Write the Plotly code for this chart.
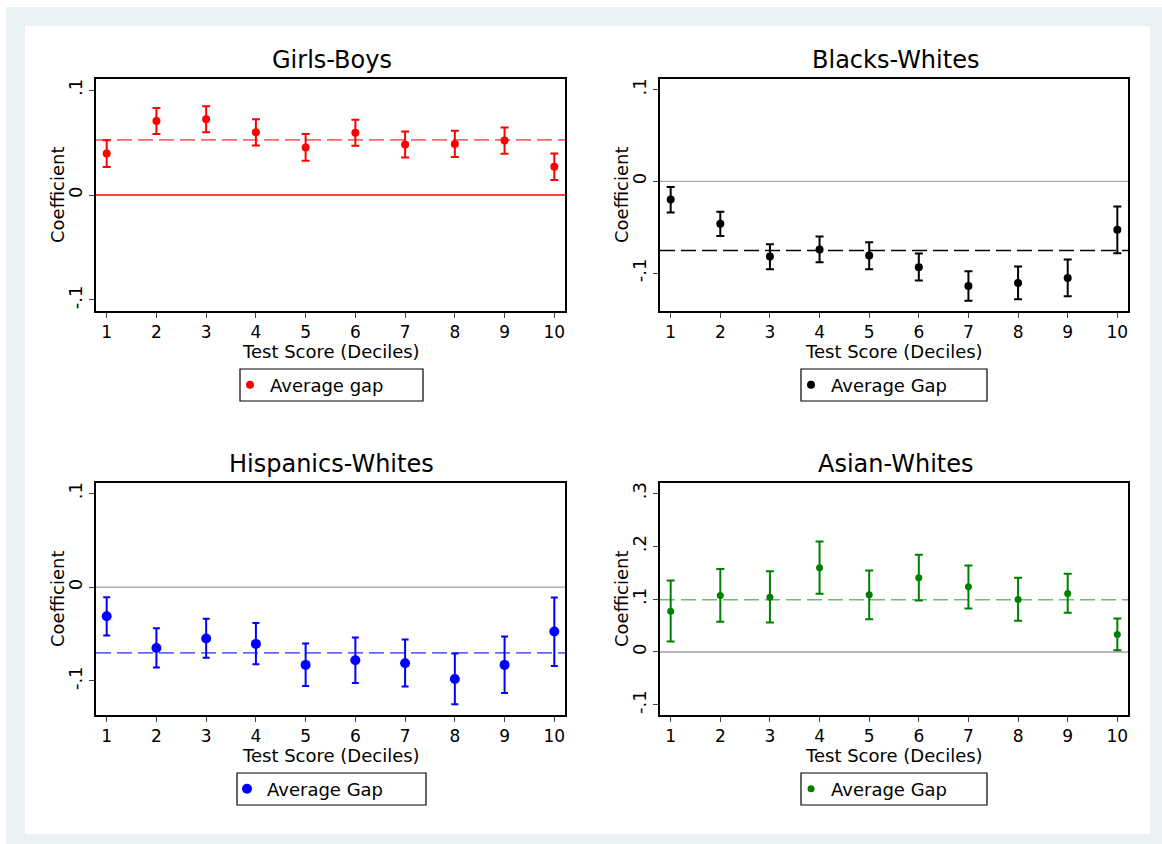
import plotly.graph_objects as go

# ---- data -------------------------------------------------------------
deciles = list(range(1, 11))

girls_boys = [0.0396, 0.0706, 0.0722, 0.0598, 0.0453, 0.0592, 0.0481, 0.0487, 0.0519, 0.0269]
girls_boys_lo = [0.0266, 0.0582, 0.0598, 0.0472, 0.0326, 0.0468, 0.0358, 0.0361, 0.0392, 0.0142]
girls_boys_hi = [0.0522, 0.0829, 0.0845, 0.0722, 0.0582, 0.0718, 0.0604, 0.0611, 0.0642, 0.0396]
girls_boys_avg = 0.0525

blacks_whites = [-0.0197, -0.0463, -0.0820, -0.0743, -0.0809, -0.0936, -0.1140, -0.1107, -0.1053, -0.0528]
blacks_whites_lo = [-0.0339, -0.0597, -0.0958, -0.0882, -0.0958, -0.1082, -0.1301, -0.1286, -0.1253, -0.0783]
blacks_whites_hi = [-0.0062, -0.0332, -0.0685, -0.0601, -0.0663, -0.0787, -0.0980, -0.0929, -0.0852, -0.0273]
blacks_whites_avg = -0.0754

hisp_whites = [-0.0310, -0.0648, -0.0548, -0.0605, -0.0829, -0.0779, -0.0811, -0.0979, -0.0829, -0.0473]
hisp_whites_lo = [-0.0516, -0.0858, -0.0754, -0.0822, -0.1053, -0.1021, -0.1060, -0.1249, -0.1128, -0.0840]
hisp_whites_hi = [-0.0107, -0.0438, -0.0338, -0.0381, -0.0601, -0.0537, -0.0559, -0.0708, -0.0527, -0.0110]
hisp_whites_avg = -0.0701

asian_whites = [0.0771, 0.1068, 0.1036, 0.1592, 0.1081, 0.1403, 0.1232, 0.0992, 0.1106, 0.0329]
asian_whites_lo = [0.0196, 0.0569, 0.0556, 0.1100, 0.0619, 0.0973, 0.0821, 0.0588, 0.0739, 0.0032]
asian_whites_hi = [0.1352, 0.1567, 0.1529, 0.2092, 0.1542, 0.1839, 0.1637, 0.1403, 0.1479, 0.0632]
asian_whites_avg = 0.0986

y_ticks_small = [-0.1, 0, 0.1]
y_ticks_small_text = ["-.1", "0", ".1"]
y_ticks_asian = [-0.1, 0, 0.1, 0.2, 0.3]
y_ticks_asian_text = ["-.1", "0", ".1", ".2", ".3"]

# ---- layout geometry (pixels on a 1162 x 844 canvas) --------------------
W, H = 1162, 844
FONT = "DejaVu Sans"
TXT = 18
TICK_TXT = 17


def px_x(p):
    return p / W


def px_y(p):
    return 1 - p / H


panels = [
    dict(title="Girls-Boys", est=girls_boys, lo=girls_boys_lo, hi=girls_boys_hi,
         avg=girls_boys_avg, color="#FF0000", avg_color="rgba(255,0,0,0.6)",
         zero_color="#FF0000", zero_width=1.3, msize=8, cap=4,
         box=(96, 565, 79, 311), yrange=[-0.1105, 0.1105],
         ticks=(y_ticks_small, y_ticks_small_text), leg_name="Average gap",
         leg_box=(240, 423, 369, 401)),
    dict(title="Blacks-Whites", est=blacks_whites, lo=blacks_whites_lo, hi=blacks_whites_hi,
         avg=blacks_whites_avg, color="#000000", avg_color="#000000",
         zero_color="#A8A8A8", zero_width=1.2, msize=8, cap=4,
         box=(660, 1128, 79, 311), yrange=[-0.1413, 0.1115],
         ticks=(y_ticks_small, y_ticks_small_text), leg_name="Average Gap",
         leg_box=(801, 987, 369, 401)),
    dict(title="Hispanics-Whites", est=hisp_whites, lo=hisp_whites_lo, hi=hisp_whites_hi,
         avg=hisp_whites_avg, color="#0000FF", avg_color="rgba(0,0,255,0.6)",
         zero_color="#888888", zero_width=1, msize=10, cap=3.5,
         box=(96, 565, 483, 715), yrange=[-0.1363, 0.111],
         ticks=(y_ticks_small, y_ticks_small_text), leg_name="Average Gap",
         leg_box=(237, 426, 773, 805)),
    dict(title="Asian-Whites", est=asian_whites, lo=asian_whites_lo, hi=asian_whites_hi,
         avg=asian_whites_avg, color="#008000", avg_color="rgba(0,128,0,0.55)",
         zero_color="#B8B8B8", zero_width=2, msize=7, cap=4,
         box=(660, 1128, 483, 715), yrange=[-0.1194, 0.3197],
         ticks=(y_ticks_asian, y_ticks_asian_text), leg_name="Average Gap",
         leg_box=(801, 987, 773, 805)),
]

fig = go.Figure()
shapes = []
annotations = []

# outer bluish frame around the graph region
shapes.append(dict(type="rect", xref="paper", yref="paper",
                   x0=px_x(6), x1=px_x(1162), y0=px_y(844), y1=px_y(7),
                   fillcolor="#EAF1F3", line=dict(width=0), layer="below"))
shapes.append(dict(type="rect", xref="paper", yref="paper",
                   x0=px_x(25), x1=px_x(1150), y0=px_y(834), y1=px_y(26),
                   fillcolor="#FFFFFF", line=dict(width=0), layer="below"))

layout_axes = {}
for i, p in enumerate(panels, start=1):
    sfx = "" if i == 1 else str(i)
    xa, ya = "x" + sfx, "y" + sfx
    leg = "legend" + sfx
    x0, x1, y0, y1 = p["box"]

    err_plus = [h - e for h, e in zip(p["hi"], p["est"])]
    err_minus = [e - l for e, l in zip(p["est"], p["lo"])]

    fig.add_trace(go.Scatter(
        x=deciles, y=p["est"], mode="markers", name=p["leg_name"],
        xaxis=xa, yaxis=ya, legend=leg,
        marker=dict(color=p["color"], size=p["msize"]),
        error_y=dict(type="data", symmetric=False, array=err_plus,
                     arrayminus=err_minus, color=p["color"],
                     thickness=2, width=p["cap"]),
        hoverinfo="x+y",
    ))

    # zero reference line and average-gap line
    shapes.append(dict(type="line", xref=xa + " domain", yref=ya,
                       x0=0, x1=1, y0=0, y1=0, layer="below",
                       line=dict(color=p["zero_color"], width=p["zero_width"])))
    shapes.append(dict(type="line", xref=xa + " domain", yref=ya,
                       x0=0, x1=1, y0=p["avg"], y1=p["avg"], layer="below",
                       line=dict(color=p["avg_color"], width=1.6, dash="15px,6px")))

    layout_axes["xaxis" + sfx] = dict(
        domain=[px_x(x0), px_x(x1)], anchor=ya, range=[0.785, 10.215],
        tickvals=deciles, ticks="outside", ticklen=5, tickcolor="#444",
        showline=True, mirror=True, linecolor="#000", linewidth=1.5,
        showgrid=False, zeroline=False,
        tickfont=dict(family=FONT, size=TICK_TXT, color="#000"),
    )
    layout_axes["yaxis" + sfx] = dict(
        domain=[px_y(y1), px_y(y0)], anchor=xa, range=p["yrange"],
        tickvals=p["ticks"][0], ticktext=p["ticks"][1], tickangle=-90,
        ticks="outside", ticklen=5, tickcolor="#444",
        showline=True, mirror=True, linecolor="#000", linewidth=1.5,
        showgrid=False, zeroline=False,
        tickfont=dict(family=FONT, size=TXT, color="#000"),
    )

    # panel title and axis titles
    annotations.append(dict(text=p["title"], xref="paper", yref="paper",
                            x=px_x((x0 + x1) / 2 + 1), y=px_y(y0 - 19),
                            xanchor="center", yanchor="middle", showarrow=False,
                            font=dict(family=FONT, size=24, color="#000")))
    annotations.append(dict(text="Test Score (Deciles)", xref="paper", yref="paper",
                            x=px_x((x0 + x1) / 2), y=px_y(y1 + 40),
                            xanchor="center", yanchor="middle", showarrow=False,
                            font=dict(family=FONT, size=TXT, color="#000")))
    annotations.append(dict(text="Coefficient", xref="paper", yref="paper",
                            x=px_x(x0 - 39), y=px_y((y0 + y1) / 2), textangle=-90,
                            xanchor="center", yanchor="middle", showarrow=False,
                            font=dict(family=FONT, size=TXT, color="#000")))

    # legend frame
    lx0, lx1, ly0, ly1 = p["leg_box"]
    shapes.append(dict(type="rect", xref="paper", yref="paper",
                       x0=px_x(lx0), x1=px_x(lx1), y0=px_y(ly1), y1=px_y(ly0),
                       line=dict(color="#000", width=1.2), fillcolor="rgba(0,0,0,0)"))
    layout_axes[leg] = dict(
        x=px_x(lx0 - 10), y=px_y((ly0 + ly1) / 2), xanchor="left", yanchor="middle",
        bgcolor="rgba(0,0,0,0)", borderwidth=0,
        font=dict(family=FONT, size=TXT, color="#000"),
        itemsizing="trace",
    )

fig.update_layout(
    width=W, height=H,
    margin=dict(l=0, r=0, t=0, b=0),
    paper_bgcolor="#FFFFFF", plot_bgcolor="#FFFFFF",
    showlegend=True,
    shapes=shapes, annotations=annotations,
    font=dict(family=FONT, color="#000"),
    **layout_axes,
)

fig.write_html("out.html")
